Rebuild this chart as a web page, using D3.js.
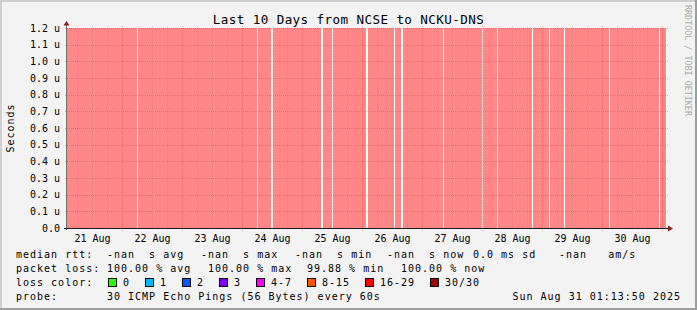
<!DOCTYPE html>
<html>
<head>
<meta charset="utf-8">
<script src="https://cdn.jsdelivr.net/npm/d3@7"></script>
<style>
  body { margin: 0; background: #f3f3f3; }
  text { font-family: "DejaVu Sans Mono", monospace; }
</style>
</head>
<body>
<div id="chart"></div>
<script>
// series: 100% loss everywhere, except a few steps with no data
const dataStart = "2025-08-21T02:00:00Z";
const dataEnd = "2025-08-31T01:36:00Z";
const gapStarts = ["2025-08-22T06:00", "2025-08-24T06:00", "2025-08-24T11:36", "2025-08-25T07:36",
  "2025-08-25T12:00", "2025-08-26T01:36", "2025-08-26T12:48", "2025-08-26T15:36", "2025-08-27T08:24",
  "2025-08-28T00:00", "2025-08-28T06:00", "2025-08-28T20:00", "2025-08-29T02:48", "2025-08-29T08:48",
  "2025-08-30T02:48", "2025-08-30T22:48"];
const gapMinutes = [24, 24, 48, 48, 24, 48, 24, 48, 24, 24, 24, 24, 24, 24, 24, 24];
const yTicks = [0, 0.1, 0.2, 0.3, 0.4, 0.5, 0.6, 0.7, 0.8, 0.9, 1.0, 1.1, 1.2];  // micro-seconds

const title = "Last 10 Days from NCSE to NCKU-DNS";
const rttValues = ["-nan", "-nan", "-nan", "-nan", "0.0", "-nan"];
const rttUnits = ["  s avg", "  s max", "  s min", "  s now", " ms sd", "   am/s"];
const lossValues = ["100.00", "100.00", "99.88", "100.00"];
const lossUnits = ["avg", "max", "min", "now"];
const lossLabels = ["0", "1", "2", "3", "4-7", "8-15", "16-29", "30/30"];
const lossColors = ["#26ff00", "#00b8ff", "#0059ff", "#7e00ff", "#ff00ff", "#ff5500", "#ff0000", "#a00000"];
const probeText = "30 ICMP Echo Pings (56 Bytes) every 60s";
const stamp = "Sun Aug 31 01:13:50 2025";

const W = 697, H = 310;
const pL = 67, pR = 667, pT = 28, pB = 228;

const svg = d3.select("#chart").append("svg")
  .attr("width", W).attr("height", H);

// frame
svg.append("rect").attr("width", W).attr("height", H).attr("fill", "#f3f3f3");
svg.append("path").attr("d", `M1,${H} L1,1 L${W},1`).attr("stroke", "#cfcfcf").attr("stroke-width", 2).attr("fill", "none");
svg.append("path").attr("d", `M0,${H - 1} L${W - 1},${H - 1} L${W - 1},0`).attr("stroke", "#9e9e9e").attr("stroke-width", 2).attr("fill", "none");

const t0 = new Date(dataStart);
const x = d3.scaleUtc()
  .domain([t0, d3.utcDay.offset(t0, 10)])
  .range([pL, pR]);
const y = d3.scaleLinear().domain([0, 1.2]).range([pB, pT]);

// canvas
svg.append("rect").attr("x", pL).attr("y", pT)
  .attr("width", pR - pL).attr("height", pB - pT).attr("fill", "#fff");

// loss segments = data range minus the gaps
const gaps = gapStarts.map((s, i) => {
  const a = new Date(s + ":00Z");
  return [a, d3.utcMinute.offset(a, gapMinutes[i])];
});
const segs = [];
let cur = t0;
gaps.forEach(g => { segs.push([cur, g[0]]); cur = g[1]; });
segs.push([cur, new Date(dataEnd)]);

svg.append("g").selectAll("rect").data(segs).enter().append("rect")
  .attr("x", d => x(d[0]))
  .attr("width", d => x(d[1]) - x(d[0]))
  .attr("y", y(1.2))
  .attr("height", y(0) - y(1.2))
  .attr("fill", "#ff8787");

// grid
const grid = svg.append("g");
const minor = d3.utcHour.every(6).range(x.domain()[0], x.domain()[1])
  .filter(d => d.getUTCHours() !== 0);
grid.selectAll(".vmin").data(minor).enter().append("line")
  .attr("x1", d => x(d) + 0.5).attr("x2", d => x(d) + 0.5)
  .attr("y1", pT - 2).attr("y2", pB + 2)
  .attr("stroke", "rgba(130,130,130,0.28)").attr("stroke-dasharray", "1,1");
grid.selectAll(".hgrid").data(yTicks.slice(1)).enter().append("line")
  .attr("x1", pL - 2).attr("x2", pR + 2)
  .attr("y1", d => Math.round(y(d)) + 0.5).attr("y2", d => Math.round(y(d)) + 0.5)
  .attr("stroke", "rgba(120,110,110,0.45)").attr("stroke-dasharray", "1,1");
const major = d3.utcDay.range(x.domain()[0], x.domain()[1]);
grid.selectAll(".vmaj").data(major).enter().append("line")
  .attr("x1", d => x(d) + 0.5).attr("x2", d => x(d) + 0.5)
  .attr("y1", pT - 2).attr("y2", pB + 3)
  .attr("stroke", "rgba(230,40,40,0.4)").attr("stroke-dasharray", "1,1");

// axes
svg.append("line").attr("x1", pL - 0.5).attr("x2", pL - 0.5)
  .attr("y1", pB + 2).attr("y2", pT - 4).attr("stroke", "#707070");
svg.append("line").attr("x1", pL - 3).attr("x2", pR + 3)
  .attr("y1", pB + 0.5).attr("y2", pB + 0.5).attr("stroke", "#1a1a1a");
svg.append("path").attr("d", `M${pL - 0.5},21 L${pL - 3.5},25.5 L${pL + 2.5},25.5 Z`).attr("fill", "#8b1c1c");
svg.append("path").attr("d", `M673,${pB + 0.5} L668,${pB - 2.5} L668,${pB + 3.5} Z`).attr("fill", "#8b1c1c");

// y labels
svg.append("g").selectAll("text").data(yTicks).enter().append("text")
  .attr("x", 60).attr("y", d => y(d) + 3.7)
  .attr("text-anchor", "end")
  .attr("font-size", "10px").attr("fill", "#000")
  .text(d => d === 0 ? "0.0" : d3.format(".1f")(d) + " u");

// x labels at noon
const noons = d3.utcDay.range(d3.utcDay.floor(x.domain()[0]), x.domain()[1])
  .map(d => d3.utcHour.offset(d, 12))
  .filter(d => d >= x.domain()[0] && d <= x.domain()[1]);
svg.append("g").selectAll("text").data(noons).enter().append("text")
  .attr("x", d => x(d) + 0.5).attr("y", 241.5)
  .attr("text-anchor", "middle")
  .attr("font-size", "10px").attr("fill", "#000")
  .text(d => d3.utcFormat("%d %b")(d));

// title and side texts
svg.append("text").attr("x", 348.5).attr("y", 24)
  .attr("text-anchor", "middle").attr("font-size", "12.6px").attr("letter-spacing", "0.4px")
  .text(title);
svg.append("text").attr("transform", `translate(14,${(pT + pB) / 2}) rotate(-90)`)
  .attr("text-anchor", "middle").attr("font-size", "10px").attr("letter-spacing", "1px")
  .text("Seconds");
svg.append("text").attr("transform", "translate(685,5) rotate(90)")
  .attr("font-size", "8.4px").attr("fill", "#acacac")
  .text("RRDTOOL / TOBI OETIKER");

// legend
const lg = svg.append("g").attr("font-size", "10px").attr("letter-spacing", "1px").attr("fill", "#000");
const row = [258, 272, 286, 300];
lg.append("text").attr("x", 16).attr("y", row[0]).text("median rtt:");
const rttX = [107, 201, 295, 387, 473, 559];
rttValues.forEach((v, i) => {
  lg.append("text").attr("x", rttX[i]).attr("y", row[0])
    .style("white-space", "pre").text(v + rttUnits[i]);
});
lg.append("text").attr("x", 16).attr("y", row[1]).text("packet loss:");
const lossX = [107, 208, 307, 401];
lossValues.forEach((v, i) => {
  lg.append("text").attr("x", lossX[i]).attr("y", row[1]).text(v + " % " + lossUnits[i]);
});
lg.append("text").attr("x", 16).attr("y", row[2]).text("loss color:");
let bx = 108;
lossLabels.forEach((l, i) => {
  svg.append("rect").attr("x", bx + 0.5).attr("y", 278.5).attr("width", 8).attr("height", 8)
    .attr("fill", lossColors[i]).attr("stroke", "#000");
  lg.append("text").attr("x", bx + 15).attr("y", row[2]).text(l);
  bx = bx + 15 + l.length * 7 + 15;
});
lg.append("text").attr("x", 16).attr("y", row[3]).text("probe:");
lg.append("text").attr("x", 107).attr("y", row[3]).text(probeText);
lg.append("text").attr("x", 681).attr("y", row[3]).attr("text-anchor", "end").text(stamp);
</script>
</body>
</html>
